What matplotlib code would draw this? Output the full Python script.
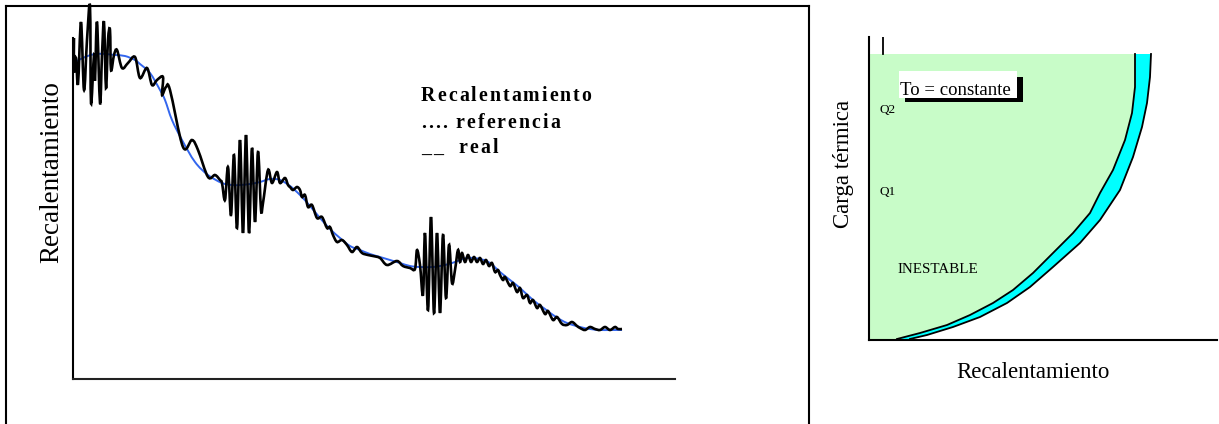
import numpy as np
import matplotlib
matplotlib.use("Agg")
import matplotlib.pyplot as plt
from matplotlib.lines import Line2D
from matplotlib.patches import Rectangle, Polygon, PathPatch
from matplotlib.path import Path
from matplotlib.font_manager import FontProperties, findfont, get_font

W, H = 1219, 424

# ---------------- data (pixel-based readings) ----------------
# Left chart: reference (blue) and real (black) superheat traces
ref_x = [75, 85, 95, 105, 115, 125, 135, 140, 150, 160, 165, 172, 182, 195, 208, 222, 232, 240,
         250, 260, 270, 280, 290, 300, 310, 320, 330, 340, 350, 360, 370, 380, 390, 400, 410,
         420, 433, 445, 455, 467, 480, 490, 500, 510, 520, 533, 545, 556, 567, 580, 590, 600,
         610, 622]
ref_y = [62, 57, 54, 54, 55, 56, 60, 64, 73, 90, 100, 120, 140, 162, 175, 183, 185, 185,
         184, 182, 179, 180, 186, 195, 206, 218, 229, 238, 246, 250, 254, 257, 260, 263, 266,
         267, 267, 265, 262, 258, 259, 263, 272, 280, 288, 300, 309, 317, 323, 327, 329, 330,
         330, 330]

real_x = [74, 74, 76, 78, 81, 84, 87, 90, 91, 94, 95, 97, 100, 102, 104, 106, 108, 110, 111,
          114, 117, 122, 128, 135, 140, 147, 152, 157, 163, 162, 166, 170, 183, 192, 198, 208,
          215, 220, 222, 225, 228, 231, 234, 237, 240, 243, 246, 249, 252, 255, 258, 261, 263,
          268, 272, 277, 280, 285, 288, 290, 293, 297, 300, 302, 305, 308, 312, 317, 322, 327,
          330, 333, 337, 342, 347, 352, 357, 362, 368, 373, 380, 387, 397, 403, 410, 415, 417,
          420, 423, 425, 428, 431, 434, 437, 440, 443, 446, 449, 452, 455, 458, 460, 462, 465,
          468, 471, 474, 477, 480, 483, 486, 489, 492, 495, 498, 500, 503, 505, 510, 513, 517,
          520, 523, 527, 530, 533, 537, 540, 545, 548, 553, 557, 562, 567, 572, 577, 580, 585,
          590, 595, 600, 605, 610, 615, 618, 622]
real_y = [38, 72, 58, 84, 22, 90, 40, 6, 103, 55, 80, 22, 103, 55, 22, 88, 40, 30, 70,
          55, 50, 68, 63, 57, 78, 68, 85, 80, 77, 95, 87, 90, 147, 140, 150, 177,
          175, 180, 183, 200, 167, 215, 155, 228, 140, 233, 135, 233, 148, 222, 152, 210, 203,
          170, 183, 172, 183, 178, 185, 187, 190, 187, 190, 197, 195, 207, 205, 218, 217, 228,
          227, 235, 242, 240, 245, 252, 247, 253, 255, 256, 258, 265, 261, 266, 268, 269, 250,
          265, 295, 233, 310, 217, 313, 233, 313, 235, 298, 245, 283, 270, 250, 262, 253, 262,
          255, 262, 257, 262, 258, 264, 260, 266, 263, 272, 270, 275, 280, 277, 286, 283, 292,
          288, 298, 295, 303, 300, 308, 305, 314, 311, 320, 317, 324, 325, 322, 326, 328, 330,
          327, 329, 330, 327, 330, 327, 329, 329]

legend_lines = ["Recalentamiento", ".... referencia", "__  real"]

# Right chart: stability boundary curves (load vs superheat)
inner_x = [1135, 1135, 1132, 1125, 1113, 1100, 1090, 1073, 1053, 1033, 1013, 993, 970, 947, 920, 897]
inner_y = [54, 87, 113, 140, 170, 193, 213, 233, 253, 273, 290, 303, 315, 325, 333, 339]
outer_x = [1151, 1150, 1147, 1142, 1133, 1120, 1100, 1080, 1053, 1030, 1007, 980, 953, 927, 910]
outer_y = [54, 77, 103, 127, 157, 190, 220, 243, 267, 287, 303, 317, 327, 335, 339]

# ---------------- figure ----------------
fig = plt.figure(figsize=(W / 100, H / 100), dpi=100)
fig.patch.set_facecolor("white")

def fx(px):
    return px / W

def fy(py):
    return 1 - py / H

serif = "Liberation Serif"


def smooth_path(xs, ys):
    """Smooth (Catmull-Rom style) Bezier path passing through every read point."""
    P = np.column_stack([xs, ys]).astype(float)
    n = len(P)
    verts = [P[0]]
    codes = [Path.MOVETO]
    for i in range(n - 1):
        p0 = P[max(i - 1, 0)]
        p1 = P[i]
        p2 = P[i + 1]
        p3 = P[min(i + 2, n - 1)]
        c1 = p1 + (p2 - p0) / 6.0
        c2 = p2 - (p3 - p1) / 6.0
        verts += [c1, c2, p2]
        codes += [Path.CURVE4] * 3
    return Path(np.array(verts), codes)


# outer frame of the left chart
lw_frame = 1.5
for (x0, y0, x1, y1) in [(6, 6, 809, 6), (6, 6, 6, 430), (809, 6, 809, 430)]:
    fig.add_artist(Line2D([fx(x0), fx(x1)], [fy(y0), fy(y1)], color="black",
                          lw=lw_frame, transform=fig.transFigure))

# ---- left axes ----
L_x0, L_x1, L_top, L_bot = 73, 675, 38, 379
axL = fig.add_axes([fx(L_x0), fy(L_bot), (L_x1 - L_x0) / W, (L_bot - L_top) / H])
axL.set_xlim(L_x0, L_x1)
axL.set_ylim(L_bot, L_top)
for s in ["top", "right"]:
    axL.spines[s].set_visible(False)
axL.spines["left"].set_linewidth(1.5)
axL.spines["bottom"].set_linewidth(1.5)
axL.spines["bottom"].set_color("#222222")
axL.set_xticks([])
axL.set_yticks([])
axL.patch.set_alpha(0)

axL.add_patch(PathPatch(smooth_path(ref_x, ref_y), facecolor="none",
                        edgecolor="#3366ee", lw=1.4, zorder=2))
axL.add_patch(PathPatch(smooth_path(real_x, real_y), facecolor="none",
                        edgecolor="black", lw=1.9, zorder=3, clip_on=False))

fig.text(fx(52), fy(172), "Recalentamiento", rotation=90, ha="center", va="center",
         family=serif, fontsize=19.5)

# tracked (letter-spaced) bold legend text
def tracked_text(x_px, base_px, s, size_pt, tracking_px, weight="bold"):
    prop = FontProperties(family=serif, weight=weight, size=size_pt)
    font = get_font(findfont(prop))
    font.set_size(size_pt, 100)
    cur = x_px
    for ch in s:
        if ch != " ":
            fig.text(fx(cur), fy(base_px), ch, fontproperties=prop, ha="left", va="baseline")
        g = font.load_char(ord(ch))
        cur += g.linearHoriAdvance / 65536.0 + tracking_px

baselines = [101, 128, 153]
for s, b in zip(legend_lines, baselines):
    tracked_text(421, b, s, 14.3, 2.0)

# ---- right axes ----
R_x0, R_x1, R_top, R_bot = 869, 1217, 37, 340
axR = fig.add_axes([fx(R_x0), fy(R_bot), (R_x1 - R_x0) / W, (R_bot - R_top) / H])
axR.set_xlim(R_x0, R_x1)
axR.set_ylim(R_bot, R_top)
for s in ["top", "right"]:
    axR.spines[s].set_visible(False)
axR.spines["left"].set_linewidth(1.5)
axR.spines["bottom"].set_linewidth(1.5)
axR.set_xticks([])
axR.set_yticks([])
axR.patch.set_alpha(0)

green_poly = [(R_x0, 54)] + list(zip(inner_x, inner_y)) + [(R_x0, R_bot)]
axR.add_patch(Polygon(green_poly, closed=True, facecolor="#c8fcc8", edgecolor="none", zorder=1))
cyan_poly = list(zip(inner_x, inner_y)) + [(R_x0 + 50, R_bot)] + list(zip(outer_x, outer_y))[::-1]
axR.add_patch(Polygon(cyan_poly, closed=True, facecolor="#00ffff", edgecolor="none", zorder=1))
axR.plot(inner_x, inner_y, color="black", lw=1.3, zorder=3)
axR.plot(outer_x, outer_y, color="black", lw=1.3, zorder=3)
axR.plot([883, 883], [37, 54], color="black", lw=1.3, zorder=3)

# "To = constante" box with shadow
fig.add_artist(Rectangle((fx(905), fy(102)), (1023 - 905) / W, (102 - 77) / H,
                         transform=fig.transFigure, facecolor="black", edgecolor="none", zorder=4))
fig.add_artist(Rectangle((fx(899), fy(98)), (1017 - 899) / W, (98 - 71) / H,
                         transform=fig.transFigure, facecolor="white", edgecolor="none", zorder=5))
fig.text(fx(900), fy(95), "To = constante", family=serif, fontsize=13.5,
         ha="left", va="baseline", zorder=6)

fig.text(fx(879), fy(113), "Q2", family=serif, fontsize=9.5, ha="left", va="baseline")
fig.text(fx(879), fy(195), "Q1", family=serif, fontsize=9.5, ha="left", va="baseline")
fig.text(fx(898), fy(273), "INESTABLE", family=serif, fontsize=10.8, ha="left", va="baseline")

fig.text(fx(1033), fy(378), "Recalentamiento", family=serif, fontsize=16.5,
         ha="center", va="baseline")
fig.text(fx(844), fy(164), "Carga térmica", rotation=90, family=serif, fontsize=16.5,
         ha="center", va="center")

fig.savefig("out.png", dpi=100, facecolor="white")
